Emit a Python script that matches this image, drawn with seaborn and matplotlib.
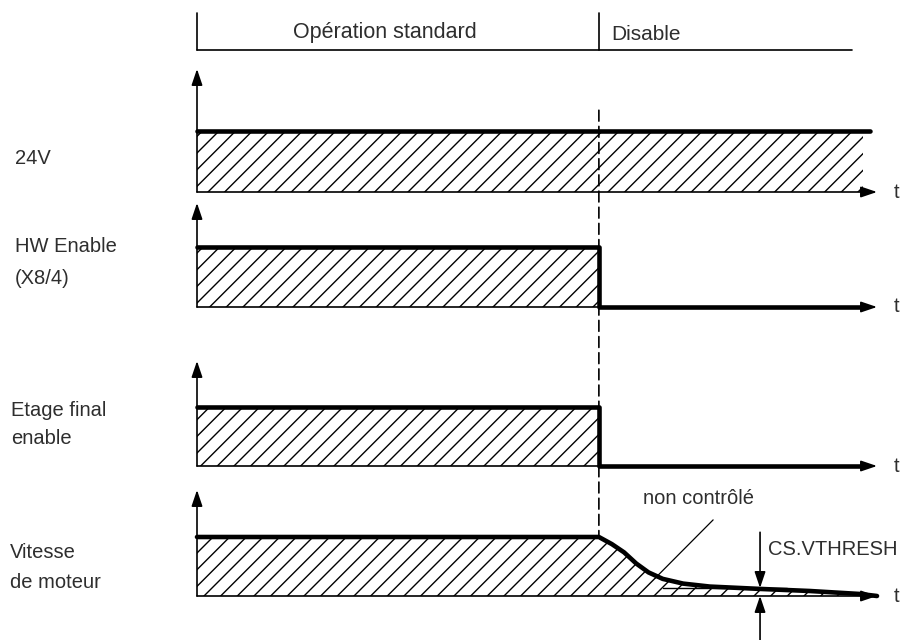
import matplotlib
matplotlib.use('Agg')
import matplotlib.pyplot as plt
import seaborn as sns
from matplotlib.patches import ConnectionPatch

sns.set_style('white')
plt.rcParams['font.family'] = ['Liberation Sans', 'DejaVu Sans']
plt.rcParams['hatch.linewidth'] = 1.0
plt.rcParams['hatch.color'] = 'black'

# Data
signal_names = [['24V'], ['HW Enable', '(X8/4)'], ['Etage final', 'enable'], ['Vitesse', 'de moteur']]
phase_labels = ['Opération standard', 'Disable']
t_disable = 59.1

t_24v = [0, 99]
lvl_24v = [1, 1]
t_hw = [0, 59.1, 59.1, 98]
lvl_hw = [1, 1, 0, 0]
t_stage = [0, 59.1, 59.1, 98]
lvl_stage = [1, 1, 0, 0]
t_speed = [0, 59.1, 61.0, 62.8, 64.6, 66.4, 68.5, 71.5, 75.4, 82.8, 90.1, 97.5, 100]
lvl_speed = [1, 1, 0.88, 0.74, 0.55, 0.40, 0.29, 0.21, 0.16, 0.12, 0.085, 0.034, 0]
t_hatch_24v = [0, 98]
t_hatch_enable = [0, 59.1]
v_thresh = 0.136
t_thresh = [68.5, 86.8]
t_vthresh_arrow = 82.8

# Layout (pixels)
W, H = 909, 640
X0, X1 = 197, 877
panels = [(69, 131, 192), (203, 247, 307), (361, 407, 466), (490, 537, 596)]  # top, signal, base
label_pos = [(15, [158]), (15, [247, 278]), (11, [410, 438]), (10, [552, 582])]
TXT = '#2e2e2e'
FS = 14.5

fig = plt.figure(figsize=(W / 100, H / 100), dpi=100)

thin_arrow = dict(arrowstyle='-|>,head_length=0.65,head_width=0.22', lw=1.2, color='black',
                  mutation_scale=15, shrinkA=0, shrinkB=0)

axes = []
for top, sig, base in panels:
    ax = fig.add_axes([X0 / W, 1 - base / H, (X1 - X0) / W, (base - top) / H])
    ytop = (base - top) / (base - sig)
    ax.set_xlim(0, 100)
    ax.set_ylim(0, ytop)
    ax.axis('off')
    # vertical axis arrow and time axis arrow
    ax.annotate('', xy=(0, ytop), xytext=(0, 0), arrowprops=thin_arrow, annotation_clip=False)
    ax.annotate('', xy=(100, 0), xytext=(0, 0), arrowprops=thin_arrow, annotation_clip=False)
    ax.text(102.9, 0, 't', ha='center', va='center', fontsize=FS, color=TXT)
    axes.append(ax)

ax1, ax2, ax3, ax4 = axes

# hatched areas
hatch_kw = dict(facecolor='none', edgecolor='black', hatch='//', linewidth=0)
ax1.fill_between(t_hatch_24v, 0, 1, **hatch_kw)
ax2.fill_between(t_hatch_enable, 0, 1, **hatch_kw)
ax3.fill_between(t_hatch_enable, 0, 1, **hatch_kw)
ax4.fill_between(t_speed[:-1], 0, lvl_speed[:-1], **hatch_kw)

# signals
for ax, tt, lv in [(ax1, t_24v, lvl_24v), (ax2, t_hw, lvl_hw), (ax3, t_stage, lvl_stage), (ax4, t_speed, lvl_speed)]:
    sns.lineplot(x=tt, y=lv, ax=ax, color='black', linewidth=3.3, sort=False, estimator=None)

for ax in axes:
    for ln in ax.lines:
        ln.set_clip_on(False)
    for c in ax.collections:
        c.set_clip_on(False)

# speed annotations
ax4.plot(t_thresh, [v_thresh, v_thresh], color='black', lw=1.0, clip_on=False)
ax4.annotate('', xy=(t_vthresh_arrow, v_thresh), xytext=(t_vthresh_arrow, 1.08),
             arrowprops=thin_arrow, annotation_clip=False)
ax4.annotate('', xy=(t_vthresh_arrow, 0), xytext=(t_vthresh_arrow, -0.75),
             arrowprops=thin_arrow, annotation_clip=False)
ax4.text(84.0, 0.78, 'CS.VTHRESH', ha='left', va='center', fontsize=FS, color=TXT)
ax4.plot([75.9, 67.4], [1.29, 0.305], color='black', lw=0.9, clip_on=False)
ax4.text(73.8, 1.66, 'non contrôlé', ha='center', va='center', fontsize=FS, color=TXT)

# dashed disable marker
con = ConnectionPatch(xyA=(t_disable, 1.34), coordsA=ax1.transData,
                      xyB=(t_disable, 1.0), coordsB=ax4.transData,
                      linestyle=(0, (6.5, 3.2)), lw=1.2, color='black')
fig.add_artist(con)

# header
hx = fig.add_axes([X0 / W, 1 - 50 / H, (X1 - X0) / W, (50 - 13) / H])
hx.set_xlim(0, 100)
hx.set_ylim(0, 1)
hx.axis('off')
hx.plot([0, 0], [0, 1], color='black', lw=1.2, clip_on=False)
hx.plot([t_disable, t_disable], [0, 1], color='black', lw=1.2, clip_on=False)
hx.plot([0, 96.3], [0, 0], color='black', lw=1.2, clip_on=False)
hx.text(27.6, 0.48, phase_labels[0], ha='center', va='center', fontsize=15.5, color=TXT)
hx.text(60.9, 0.42, phase_labels[1], ha='left', va='center', fontsize=15, color=TXT)

# signal labels
for names, (lx, ys) in zip(signal_names, label_pos):
    for name, y in zip(names, ys):
        fig.text(lx / W, 1 - y / H, name, ha='left', va='center', fontsize=FS, color=TXT)

fig.savefig('out.png', dpi=100)
